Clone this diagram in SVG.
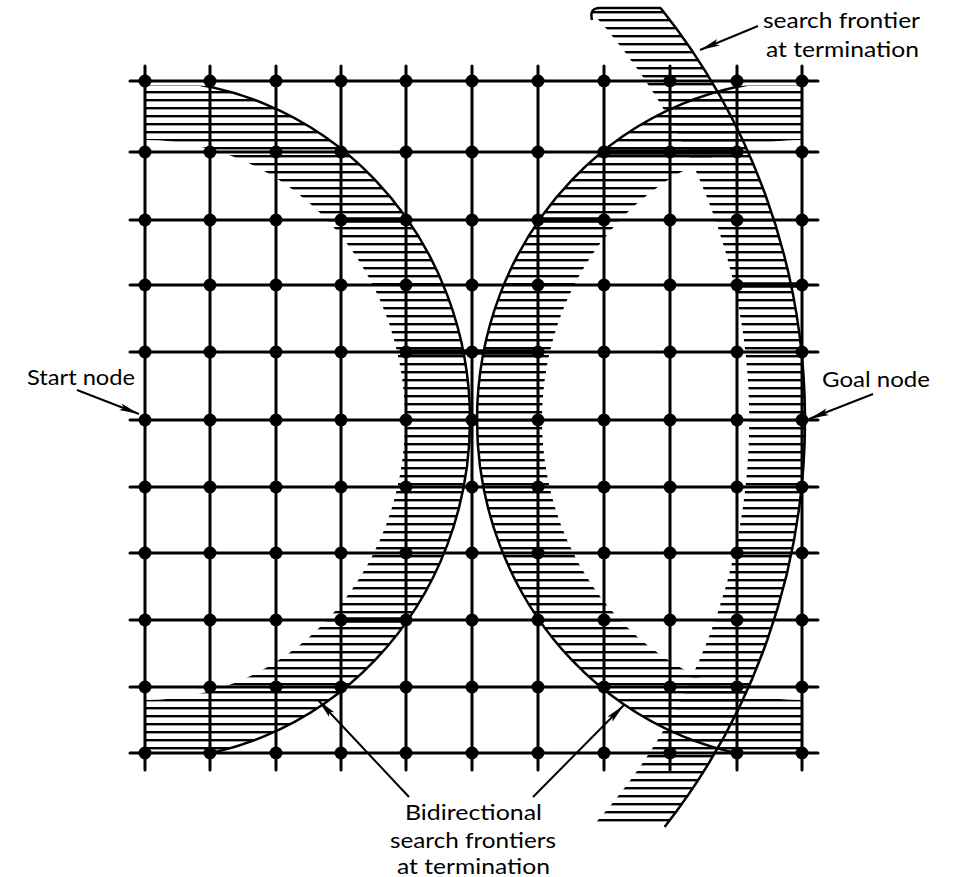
<svg xmlns="http://www.w3.org/2000/svg" width="956" height="877" viewBox="0 0 956 877">
<style>
.grid{stroke:#000;stroke-width:3;fill:none;stroke-linecap:round}
.bold{stroke:#000;stroke-width:5.5;fill:none}
.node{fill:#000}
.curve{stroke:#000;stroke-width:2.5;fill:none}
.lbl{font-family:"Lato","Liberation Sans",sans-serif;font-size:21px;fill:#000}
.arrow{stroke:#000;stroke-width:2;fill:none}
</style>
<defs>
<pattern id="hatch" patternUnits="userSpaceOnUse" width="20" height="8">
<rect x="0" y="3" width="20" height="2.4" fill="#000"/>
</pattern>
<clipPath id="gridclip"><rect x="145" y="85" width="657" height="666"/></clipPath>
<clipPath id="curveclip"><rect x="100" y="86" width="760" height="667"/></clipPath>
<marker id="ah" viewBox="0 0 20 10" refX="20" refY="5" markerWidth="20" markerHeight="10" markerUnits="userSpaceOnUse" orient="auto">
<path d="M0,1.5 L20,5 L0,8.5 L4,5 Z" fill="#000"/>
</marker>
</defs>

<g id="hatching">
<path id="left-band" d="M145,80 A325,340 0 0 1 145,760 L145,700 A260,280 0 0 0 145,140 Z" fill="url(#hatch)" clip-path="url(#gridclip)"/>
<path id="right-band" d="M802,80 A325,340 0 0 0 802,760 L802,700 A260,280 0 0 1 802,140 Z" fill="url(#hatch)" clip-path="url(#gridclip)"/>
<path id="big-band" d="M660.6,8 A660,660 0 0 1 664.6,827 L592,827 A606,606 0 0 0 588,8 Z" fill="url(#hatch)"/>
</g>

<g id="grid">
<line class="grid" x1="130" y1="81" x2="818" y2="81"/>
<line class="grid" x1="130" y1="152" x2="818" y2="152"/>
<line class="grid" x1="130" y1="220" x2="818" y2="220"/>
<line class="grid" x1="130" y1="285" x2="818" y2="285"/>
<line class="grid" x1="130" y1="352" x2="818" y2="352"/>
<line class="grid" x1="130" y1="420" x2="818" y2="420"/>
<line class="grid" x1="130" y1="487" x2="818" y2="487"/>
<line class="grid" x1="130" y1="553" x2="818" y2="553"/>
<line class="grid" x1="130" y1="620" x2="818" y2="620"/>
<line class="grid" x1="130" y1="687" x2="818" y2="687"/>
<line class="grid" x1="130" y1="753" x2="818" y2="753"/>
<line class="grid" x1="145" y1="66" x2="145" y2="770"/>
<line class="grid" x1="210" y1="66" x2="210" y2="770"/>
<line class="grid" x1="276" y1="66" x2="276" y2="770"/>
<line class="grid" x1="341" y1="66" x2="341" y2="770"/>
<line class="grid" x1="406" y1="66" x2="406" y2="770"/>
<line class="grid" x1="472" y1="66" x2="472" y2="770"/>
<line class="grid" x1="538" y1="66" x2="538" y2="770"/>
<line class="grid" x1="604" y1="66" x2="604" y2="770"/>
<line class="grid" x1="670" y1="66" x2="670" y2="770"/>
<line class="grid" x1="737" y1="66" x2="737" y2="770"/>
<line class="grid" x1="802" y1="66" x2="802" y2="770"/>
<line class="bold" x1="341" y1="220" x2="406" y2="220"/>
<line class="bold" x1="406" y1="352" x2="538" y2="352"/>
<line class="bold" x1="737" y1="285" x2="802" y2="285"/>
<line class="bold" x1="604" y1="152" x2="737" y2="152"/>
<line class="bold" x1="538" y1="220" x2="604" y2="220"/>
<line class="bold" x1="335" y1="620" x2="406" y2="620"/>
</g>

<g id="nodes">
<circle class="node" cx="145" cy="81" r="6.5"/><circle class="node" cx="210" cy="81" r="6.5"/><circle class="node" cx="276" cy="81" r="6.5"/><circle class="node" cx="341" cy="81" r="6.5"/><circle class="node" cx="406" cy="81" r="6.5"/><circle class="node" cx="472" cy="81" r="6.5"/><circle class="node" cx="538" cy="81" r="6.5"/><circle class="node" cx="604" cy="81" r="6.5"/><circle class="node" cx="670" cy="81" r="6.5"/><circle class="node" cx="737" cy="81" r="6.5"/><circle class="node" cx="802" cy="81" r="6.5"/>
<circle class="node" cx="145" cy="152" r="6.5"/><circle class="node" cx="210" cy="152" r="6.5"/><circle class="node" cx="276" cy="152" r="6.5"/><circle class="node" cx="341" cy="152" r="6.5"/><circle class="node" cx="406" cy="152" r="6.5"/><circle class="node" cx="472" cy="152" r="6.5"/><circle class="node" cx="538" cy="152" r="6.5"/><circle class="node" cx="604" cy="152" r="6.5"/><circle class="node" cx="670" cy="152" r="6.5"/><circle class="node" cx="737" cy="152" r="6.5"/><circle class="node" cx="802" cy="152" r="6.5"/>
<circle class="node" cx="145" cy="220" r="6.5"/><circle class="node" cx="210" cy="220" r="6.5"/><circle class="node" cx="276" cy="220" r="6.5"/><circle class="node" cx="341" cy="220" r="6.5"/><circle class="node" cx="406" cy="220" r="6.5"/><circle class="node" cx="472" cy="220" r="6.5"/><circle class="node" cx="538" cy="220" r="6.5"/><circle class="node" cx="604" cy="220" r="6.5"/><circle class="node" cx="670" cy="220" r="6.5"/><circle class="node" cx="737" cy="220" r="6.5"/><circle class="node" cx="802" cy="220" r="6.5"/>
<circle class="node" cx="145" cy="285" r="6.5"/><circle class="node" cx="210" cy="285" r="6.5"/><circle class="node" cx="276" cy="285" r="6.5"/><circle class="node" cx="341" cy="285" r="6.5"/><circle class="node" cx="406" cy="285" r="6.5"/><circle class="node" cx="472" cy="285" r="6.5"/><circle class="node" cx="538" cy="285" r="6.5"/><circle class="node" cx="604" cy="285" r="6.5"/><circle class="node" cx="670" cy="285" r="6.5"/><circle class="node" cx="737" cy="285" r="6.5"/><circle class="node" cx="802" cy="285" r="6.5"/>
<circle class="node" cx="145" cy="352" r="6.5"/><circle class="node" cx="210" cy="352" r="6.5"/><circle class="node" cx="276" cy="352" r="6.5"/><circle class="node" cx="341" cy="352" r="6.5"/><circle class="node" cx="406" cy="352" r="6.5"/><circle class="node" cx="472" cy="352" r="6.5"/><circle class="node" cx="538" cy="352" r="6.5"/><circle class="node" cx="604" cy="352" r="6.5"/><circle class="node" cx="670" cy="352" r="6.5"/><circle class="node" cx="737" cy="352" r="6.5"/><circle class="node" cx="802" cy="352" r="6.5"/>
<circle class="node" cx="145" cy="420" r="6.5"/><circle class="node" cx="210" cy="420" r="6.5"/><circle class="node" cx="276" cy="420" r="6.5"/><circle class="node" cx="341" cy="420" r="6.5"/><circle class="node" cx="406" cy="420" r="6.5"/><circle class="node" cx="472" cy="420" r="6.5"/><circle class="node" cx="538" cy="420" r="6.5"/><circle class="node" cx="604" cy="420" r="6.5"/><circle class="node" cx="670" cy="420" r="6.5"/><circle class="node" cx="737" cy="420" r="6.5"/><circle class="node" cx="802" cy="420" r="6.5"/>
<circle class="node" cx="145" cy="487" r="6.5"/><circle class="node" cx="210" cy="487" r="6.5"/><circle class="node" cx="276" cy="487" r="6.5"/><circle class="node" cx="341" cy="487" r="6.5"/><circle class="node" cx="406" cy="487" r="6.5"/><circle class="node" cx="472" cy="487" r="6.5"/><circle class="node" cx="538" cy="487" r="6.5"/><circle class="node" cx="604" cy="487" r="6.5"/><circle class="node" cx="670" cy="487" r="6.5"/><circle class="node" cx="737" cy="487" r="6.5"/><circle class="node" cx="802" cy="487" r="6.5"/>
<circle class="node" cx="145" cy="553" r="6.5"/><circle class="node" cx="210" cy="553" r="6.5"/><circle class="node" cx="276" cy="553" r="6.5"/><circle class="node" cx="341" cy="553" r="6.5"/><circle class="node" cx="406" cy="553" r="6.5"/><circle class="node" cx="472" cy="553" r="6.5"/><circle class="node" cx="538" cy="553" r="6.5"/><circle class="node" cx="604" cy="553" r="6.5"/><circle class="node" cx="670" cy="553" r="6.5"/><circle class="node" cx="737" cy="553" r="6.5"/><circle class="node" cx="802" cy="553" r="6.5"/>
<circle class="node" cx="145" cy="620" r="6.5"/><circle class="node" cx="210" cy="620" r="6.5"/><circle class="node" cx="276" cy="620" r="6.5"/><circle class="node" cx="341" cy="620" r="6.5"/><circle class="node" cx="406" cy="620" r="6.5"/><circle class="node" cx="472" cy="620" r="6.5"/><circle class="node" cx="538" cy="620" r="6.5"/><circle class="node" cx="604" cy="620" r="6.5"/><circle class="node" cx="670" cy="620" r="6.5"/><circle class="node" cx="737" cy="620" r="6.5"/><circle class="node" cx="802" cy="620" r="6.5"/>
<circle class="node" cx="145" cy="687" r="6.5"/><circle class="node" cx="210" cy="687" r="6.5"/><circle class="node" cx="276" cy="687" r="6.5"/><circle class="node" cx="341" cy="687" r="6.5"/><circle class="node" cx="406" cy="687" r="6.5"/><circle class="node" cx="472" cy="687" r="6.5"/><circle class="node" cx="538" cy="687" r="6.5"/><circle class="node" cx="604" cy="687" r="6.5"/><circle class="node" cx="670" cy="687" r="6.5"/><circle class="node" cx="737" cy="687" r="6.5"/><circle class="node" cx="802" cy="687" r="6.5"/>
<circle class="node" cx="145" cy="753" r="6.5"/><circle class="node" cx="210" cy="753" r="6.5"/><circle class="node" cx="276" cy="753" r="6.5"/><circle class="node" cx="341" cy="753" r="6.5"/><circle class="node" cx="406" cy="753" r="6.5"/><circle class="node" cx="472" cy="753" r="6.5"/><circle class="node" cx="538" cy="753" r="6.5"/><circle class="node" cx="604" cy="753" r="6.5"/><circle class="node" cx="670" cy="753" r="6.5"/><circle class="node" cx="737" cy="753" r="6.5"/><circle class="node" cx="802" cy="753" r="6.5"/>
</g>

<g id="frontiers">
<path id="left-frontier" class="curve" d="M145,80 A325,340 0 0 1 145,760" clip-path="url(#curveclip)"/>
<path id="right-frontier" class="curve" d="M802,80 A325,340 0 0 0 802,760" clip-path="url(#curveclip)"/>
<path id="big-frontier" class="curve" d="M660.6,8 A660,660 0 0 1 664.6,827"/>
<path class="curve" d="M592,20 Q589,8 600,8 L661,8"/>
</g>

<g id="labels">
<text class="lbl" x="763" y="28" textLength="157" lengthAdjust="spacingAndGlyphs">search frontier</text>
<text class="lbl" x="766" y="57" textLength="153" lengthAdjust="spacingAndGlyphs">at termination</text>
<text class="lbl" x="27" y="385" textLength="108" lengthAdjust="spacingAndGlyphs">Start node</text>
<text class="lbl" x="822" y="387" textLength="108" lengthAdjust="spacingAndGlyphs">Goal node</text>
<text class="lbl" x="405" y="820" textLength="137" lengthAdjust="spacingAndGlyphs">Bidirectional</text>
<text class="lbl" x="390" y="848" textLength="166" lengthAdjust="spacingAndGlyphs">search frontiers</text>
<text class="lbl" x="397" y="874" textLength="153" lengthAdjust="spacingAndGlyphs">at termination</text>
</g>

<g id="connectors">
<line class="arrow" x1="758" y1="26" x2="700" y2="50" marker-end="url(#ah)"/>
<line class="arrow" x1="77" y1="390" x2="139" y2="414" marker-end="url(#ah)"/>
<line class="arrow" x1="873" y1="394" x2="809" y2="419" marker-end="url(#ah)"/>
<line class="arrow" x1="409" y1="797" x2="318" y2="700" marker-end="url(#ah)"/>
<line class="arrow" x1="533" y1="797" x2="624" y2="705" marker-end="url(#ah)"/>
</g>
</svg>
